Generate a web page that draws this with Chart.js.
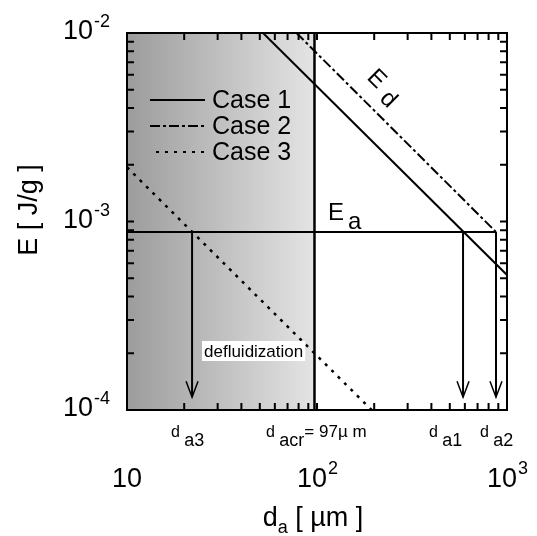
<!DOCTYPE html>
<html>
<head>
<meta charset="utf-8">
<script src="https://cdn.jsdelivr.net/npm/chart.js@4.4.1/dist/chart.umd.min.js"></script>
<style>
  html, body { margin: 0; padding: 0; background: #fff; }
  #wrap { width: 537px; height: 536px; }
</style>
</head>
<body>
<div id="wrap"><canvas id="myChart"></canvas></div>
<script>
//data

const case1 = [{x: 52, y: 1e-2}, {x: 1000, y: 5.2e-4}];
const case2 = [{x: 78, y: 1e-2}, {x: 875, y: 8.8e-4}];
const case3 = [{x: 10, y: 1.94e-3}, {x: 194, y: 1e-4}];
const eaLine = [{x: 10, y: 8.8e-4}, {x: 875, y: 8.8e-4}];
const dacr = 97;
const arrowX = [22, 587, 875];
const arrowTop = 8.8e-4;
const arrowTip = 1.17e-4;
const xMajor = [10, 100, 1000];
const xMajorLabels = [['10', ''], ['10', '2'], ['10', '3']];
const yMajor = [1e-4, 1e-3, 1e-2];
const yMajorLabels = ['-4', '-3', '-2'];

const FONT = '"Liberation Sans", Arial, sans-serif';

//plugin that draws the shaded area, frame, ticks and texts

const decor = {
  id: 'decor',
  beforeDatasetsDraw(chart) {
    const {ctx, chartArea: a, scales: {x, y}} = chart;
    const xc = x.getPixelForValue(dacr);
    const g = ctx.createLinearGradient(a.left, 0, xc, 0);
    g.addColorStop(0, '#9c9c9c');
    g.addColorStop(1, '#e4e4e4');
    ctx.save();
    ctx.fillStyle = g;
    ctx.fillRect(a.left, a.top, xc - a.left, a.bottom - a.top);
    ctx.restore();
  },
  afterDatasetsDraw(chart) {
    const {ctx, chartArea: a, scales: {x, y}} = chart;
    ctx.save();
    ctx.strokeStyle = '#000';
    ctx.fillStyle = '#000';

    // arrows
    arrowX.forEach(v => {
      const px = x.getPixelForValue(v);
      const top = y.getPixelForValue(arrowTop);
      const tip = y.getPixelForValue(arrowTip);
      ctx.lineWidth = 2;
      ctx.beginPath();
      ctx.moveTo(px, top); ctx.lineTo(px, tip);
      ctx.stroke();
      ctx.lineWidth = 1.5;
      ctx.beginPath();
      ctx.moveTo(px - 6, tip - 16); ctx.lineTo(px, tip); ctx.lineTo(px + 6, tip - 16);
      ctx.stroke();
    });

    // frame
    ctx.lineWidth = 2;
    ctx.strokeRect(a.left, a.top, a.right - a.left, a.bottom - a.top);

    // inward ticks
    const tl = 7;
    for (let d = 1; d <= 2; d++) {
      for (let m = 1; m <= 9; m++) {
        const px = x.getPixelForValue(m * Math.pow(10, d));
        if (px <= a.left + 1 || px >= a.right - 1) continue;
        ctx.beginPath();
        ctx.moveTo(px, a.bottom); ctx.lineTo(px, a.bottom - tl);
        ctx.moveTo(px, a.top); ctx.lineTo(px, a.top + tl);
        ctx.stroke();
      }
    }
    for (let d = -4; d <= -3; d++) {
      for (let m = 1; m <= 9; m++) {
        const py = y.getPixelForValue(m * Math.pow(10, d));
        if (py >= a.bottom - 1 || py <= a.top + 1) continue;
        ctx.beginPath();
        ctx.moveTo(a.left, py); ctx.lineTo(a.left + tl, py);
        ctx.moveTo(a.right, py); ctx.lineTo(a.right - tl, py);
        ctx.stroke();
      }
    }

    // x tick labels
    ctx.textBaseline = 'alphabetic';
    xMajor.forEach((v, i) => {
      const px = x.getPixelForValue(v);
      const [base, sup] = xMajorLabels[i];
      ctx.font = '27px ' + FONT;
      const wb = ctx.measureText(base).width;
      ctx.font = '18px ' + FONT;
      const ws = sup ? ctx.measureText(sup).width : 0;
      const left = px - (wb + ws) / 2;
      ctx.font = '27px ' + FONT;
      ctx.textAlign = 'left';
      ctx.fillText(base, left, 487);
      if (sup) {
        ctx.font = '18px ' + FONT;
        ctx.fillText(sup, left + wb + 1, 474);
      }
    });

    // y tick labels
    yMajor.forEach((v, i) => {
      const py = y.getPixelForValue(v);
      ctx.font = '18px ' + FONT;
      const ws = ctx.measureText(yMajorLabels[i]).width;
      const right = 110;
      ctx.textAlign = 'right';
      ctx.fillText(yMajorLabels[i], right, py - 6);
      ctx.font = '27px ' + FONT;
      ctx.fillText('10', right - ws - 1, py + 6);
    });

    // axis titles
    ctx.textAlign = 'left';
    ctx.font = '27px ' + FONT;
    const t1 = 'd', t2 = 'a', t3 = ' [ \u00b5m ]';
    const w1 = ctx.measureText(t1).width;
    const w3 = ctx.measureText(t3).width;
    ctx.font = '18px ' + FONT;
    const w2 = ctx.measureText(t2).width;
    const sx = 313 - (w1 + w2 + w3) / 2;
    ctx.font = '27px ' + FONT;
    ctx.fillText(t1, sx, 526);
    ctx.font = '18px ' + FONT;
    ctx.fillText(t2, sx + w1, 533);
    ctx.font = '27px ' + FONT;
    ctx.fillText(t3, sx + w1 + w2, 526);

    ctx.save();
    ctx.translate(37, 210);
    ctx.rotate(-Math.PI / 2);
    ctx.textAlign = 'center';
    ctx.font = '27px ' + FONT;
    ctx.fillText('E [ J/g ]', 0, 0);
    ctx.restore();

    // legend
    const leg = [
      {label: 'Case 1', dash: [], y: 100, x0: 150},
      {label: 'Case 2', dash: [10, 3, 3, 3], y: 126, x0: 150},
      {label: 'Case 3', dash: [3, 6], y: 152, x0: 156}
    ];
    ctx.font = '25px ' + FONT;
    ctx.textAlign = 'left';
    ctx.textBaseline = 'middle';
    leg.forEach(l => {
      ctx.lineWidth = 2;
      ctx.setLineDash(l.dash);
      ctx.beginPath();
      ctx.moveTo(l.x0, l.y); ctx.lineTo(205, l.y);
      ctx.stroke();
      ctx.setLineDash([]);
      ctx.fillText(l.label, 212, l.y + 1);
    });

    // E d label along the lines
    ctx.save();
    ctx.translate(377, 80);
    ctx.rotate(Math.PI / 4);
    ctx.font = '24px ' + FONT;
    ctx.textBaseline = 'middle';
    ctx.fillText('E', -9, 0);
    ctx.fillText('d', 15, 6);
    ctx.restore();

    // E a label
    ctx.font = '24px ' + FONT;
    ctx.textBaseline = 'alphabetic';
    ctx.fillText('E', 328, 220);
    ctx.fillText('a', 348, 229);

    // defluidization box
    ctx.font = '17px ' + FONT;
    const dw = ctx.measureText('defluidization').width;
    ctx.fillStyle = '#fff';
    ctx.fillRect(202, 341, dw + 4, 20);
    ctx.fillStyle = '#000';
    ctx.fillText('defluidization', 204, 357);

    // bottom d labels
    const small = (main, sub, rest, px) => {
      ctx.font = '16px ' + FONT;
      ctx.fillText(main, px, 437);
      const w = ctx.measureText(main + ' ').width;
      ctx.font = '18px ' + FONT;
      ctx.fillText(sub, px + w, 446);
      if (rest) {
        const ws = ctx.measureText(sub).width;
        ctx.font = '17px ' + FONT;
        ctx.fillText(rest, px + w + ws, 437);
      }
    };
    small('d', 'a3', '', 171);
    small('d', 'acr', '= 97\u00b5 m', 266);
    small('d', 'a1', '', 429);
    small('d', 'a2', '', 480);

    ctx.restore();
  }
};

//datasets

const line = (pts, dash, w) => ({
  data: pts, showLine: true, borderColor: '#000', borderWidth: w,
  borderDash: dash, pointRadius: 0, fill: false
});

const data = {
  datasets: [
    line(case1, [], 2),
    line(case2, [10, 3, 3, 3], 2),
    line(case3, [3, 6], 2.5),
    line(eaLine, [], 2),
    line([{x: dacr, y: 1e-4}, {x: dacr, y: 1e-2}], [], 2.5)
  ]
};

//config

const config = {
  type: 'scatter',
  data,
  options: {
    responsive: false,
    animation: false,
    layout: {padding: {left: 127, right: 30, top: 33, bottom: 126}},
    plugins: {legend: {display: false}, tooltip: {enabled: false}},
    scales: {
      x: {
        type: 'logarithmic', min: 10, max: 1000,
        grid: {display: false, drawTicks: false},
        border: {display: false},
        ticks: {display: false}
      },
      y: {
        type: 'logarithmic', min: 1e-4, max: 1e-2,
        grid: {display: false, drawTicks: false},
        border: {display: false},
        ticks: {display: false}
      }
    }
  },
  plugins: [decor]
};

//render

const canvas = document.getElementById('myChart');
canvas.width = 537;
canvas.height = 536;
const myChart = new Chart(canvas, config);
</script>
</body>
</html>
